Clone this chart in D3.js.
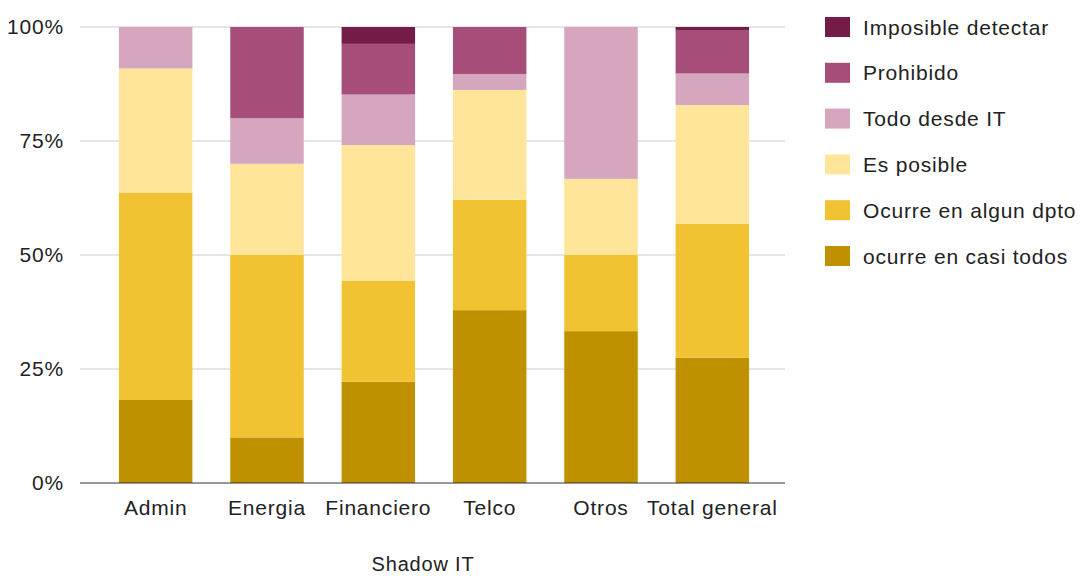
<!DOCTYPE html>
<html>
<head>
<meta charset="utf-8">
<script src="https://d3js.org/d3.v7.min.js"></script>
<style>
  body { margin: 0; background: #fff; }
  svg text { font-family: "Liberation Sans", Arial, sans-serif; fill: #222; letter-spacing: 0.8px; }
  .grid line { stroke: #ccc; }
</style>
</head>
<body>
<svg width="1086" height="576"></svg>
<script>
// categories and series (share of answers, %)
var categories = ["Admin", "Energia", "Financiero", "Telco", "Otros", "Total general"];
var seriesNames = ["ocurre en casi todos", "Ocurre en algun dpto", "Es posible",
                   "Todo desde IT", "Prohibido", "Imposible detectar"];
var casiTodos   = [18.2, 10.0, 22.2, 37.9, 33.3, 27.5];
var algunDpto   = [45.4, 40.0, 22.2, 24.2, 16.7, 29.3];
var esPosible   = [27.3, 20.0, 29.7, 24.1, 16.7, 26.1];
var todoIT      = [ 9.1, 10.0, 11.1,  3.5, 33.3,  6.9];
var prohibido   = [ 0.0, 20.0, 11.1, 10.3,  0.0,  9.4];
var imposible   = [ 0.0,  0.0,  3.7,  0.0,  0.0,  0.8];
var colors = ["#bf9000", "#f1c232", "#ffe599", "#d5a6bd", "#a64d79", "#741b47"];
var yTicks = [0, 0.25, 0.5, 0.75, 1];

var values = [casiTodos, algunDpto, esPosible, todoIT, prohibido, imposible];
var rows = categories.map(function(c, i) {
    var r = { cat: c };
    seriesNames.forEach(function(s, k) { r[s] = values[k][i] / 100; });
    return r;
});

var svg = d3.select("svg");
var x = d3.scaleBand().domain(categories).range([100, 768]).paddingInner(0.34).paddingOuter(0.17);
var y = d3.scaleLinear().domain([0, 1]).range([483, 27]);

var layers = d3.stack().keys(seriesNames)(rows);

// grid
svg.append("g").attr("class", "grid")
    .selectAll("line").data(yTicks.filter(function(t) { return t > 0; })).enter().append("line")
    .attr("x1", 80).attr("x2", 785)
    .attr("y1", function(d) { return y(d); }).attr("y2", function(d) { return y(d); });

// y tick labels
var yAxis = d3.axisLeft(y).tickValues(yTicks).tickFormat(d3.format(".0%")).tickSize(0).tickPadding(0);
var ga = svg.append("g").attr("transform", "translate(64,0)").call(yAxis);
ga.select(".domain").remove();
ga.selectAll("text").style("font-size", "21px").style("font-family", null).attr("fill", "#222");

// bars
svg.append("g").selectAll("g").data(layers).enter().append("g")
    .attr("fill", function(d, i) { return colors[i]; })
    .selectAll("rect").data(function(d) { return d; }).enter().append("rect")
    .attr("x", function(d) { return x(d.data.cat); })
    .attr("width", x.bandwidth())
    .attr("y", function(d) { return y(d[1]); })
    .attr("height", function(d) { return y(d[0]) - y(d[1]); });

// baseline
svg.append("line").attr("x1", 80).attr("x2", 785).attr("y1", y(0)).attr("y2", y(0))
    .attr("stroke", "#333").attr("stroke-width", 1);

// x axis labels
var xAxis = d3.axisBottom(x).tickSize(0).tickPadding(0);
var gx = svg.append("g").attr("transform", "translate(0,515)").call(xAxis);
gx.select(".domain").remove();
gx.selectAll("text").style("font-size", "21px").attr("fill", "#222").attr("dy", "0");

svg.append("text").attr("x", 423).attr("y", 571).attr("text-anchor", "middle")
    .style("font-size", "20px").text("Shadow IT");

// legend (top to bottom: last series first)
var legend = svg.append("g").selectAll("g").data(seriesNames.slice().reverse()).enter().append("g")
    .attr("transform", function(d, i) { return "translate(825," + (27 + i * 45.8) + ")"; });
legend.append("rect").attr("x", 0).attr("y", -10).attr("width", 25).attr("height", 20)
    .attr("fill", function(d) { return colors[seriesNames.indexOf(d)]; });
legend.append("text").attr("x", 38).attr("dy", "0.36em").style("font-size", "21px")
    .text(function(d) { return d; });
</script>
</body>
</html>
